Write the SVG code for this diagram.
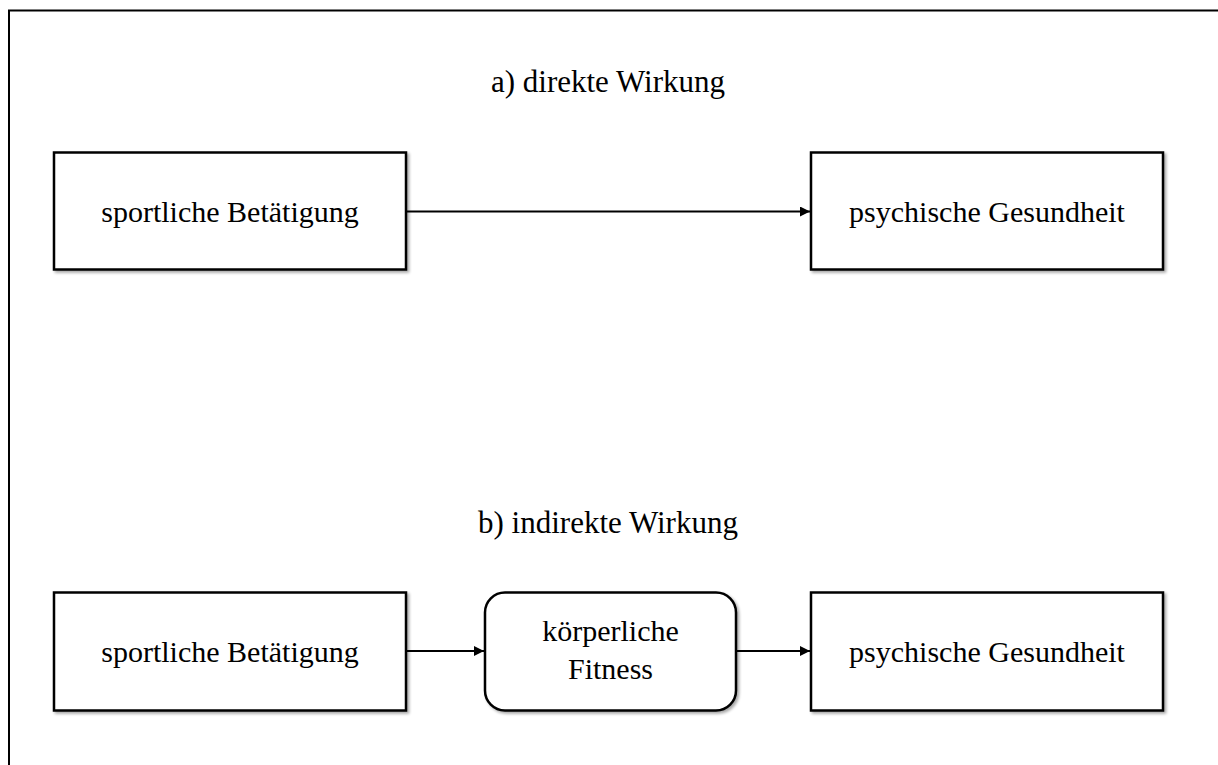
<svg xmlns="http://www.w3.org/2000/svg" width="1218" height="765" viewBox="0 0 1218 765">
  <style>
    .box { fill: #ffffff; stroke: #000000; stroke-width: 2.5; filter: url(#shadow); }
    .edge { fill: none; stroke: #000000; stroke-width: 2; marker-end: url(#arrow); }
    .label { font-family: "Liberation Serif", "Times New Roman", serif; font-size: 30px; fill: #000000; text-anchor: middle; }
    .title { font-size: 31px; }
  </style>
  <defs>
    <filter id="shadow" x="-10%" y="-10%" width="125%" height="130%">
      <feGaussianBlur in="SourceAlpha" stdDeviation="1.5"/>
      <feOffset dx="2" dy="2" result="blur"/>
      <feComponentTransfer><feFuncA type="linear" slope="0.35"/></feComponentTransfer>
      <feMerge><feMergeNode/><feMergeNode in="SourceGraphic"/></feMerge>
    </filter>
    <marker id="arrow" viewBox="0 0 10 10" refX="10" refY="5" markerWidth="5" markerHeight="5" orient="auto" markerUnits="strokeWidth">
      <path d="M0,0 L10,5 L0,10 z" fill="#000000"/>
    </marker>
  </defs>

  <rect width="1218" height="765" fill="#ffffff"/>
  <!-- outer frame, open to the right and bottom -->
  <path d="M9,770 L9,10.5 L1225,10.5" fill="none" stroke="#000000" stroke-width="2"/>

  <!-- section titles -->
  <text class="label title" x="608" y="92">a) direkte Wirkung</text>
  <text class="label title" x="608" y="533">b) indirekte Wirkung</text>

  <g id="connectors">
    <path class="edge" d="M406,211.5 L810,211.5"/>
    <path class="edge" d="M406,651 L484,651"/>
    <path class="edge" d="M736,651 L810,651"/>
  </g>

  <g id="a-sport">
    <rect class="box" x="54" y="152.5" width="352" height="117"/>
    <text class="label" x="230" y="222">sportliche Betätigung</text>
  </g>
  <g id="a-psyche">
    <rect class="box" x="811" y="152.5" width="352" height="117"/>
    <text class="label" x="987" y="222">psychische Gesundheit</text>
  </g>

  <g id="b-sport">
    <rect class="box" x="54" y="592.5" width="352" height="118"/>
    <text class="label" x="230" y="662">sportliche Betätigung</text>
  </g>
  <g id="b-fitness">
    <rect class="box" x="485" y="592.5" width="251" height="118" rx="20" ry="20"/>
    <text class="label" x="610.5" y="641">körperliche</text>
    <text class="label" x="610.5" y="679">Fitness</text>
  </g>
  <g id="b-psyche">
    <rect class="box" x="811" y="592.5" width="352" height="118"/>
    <text class="label" x="987" y="662">psychische Gesundheit</text>
  </g>
</svg>
